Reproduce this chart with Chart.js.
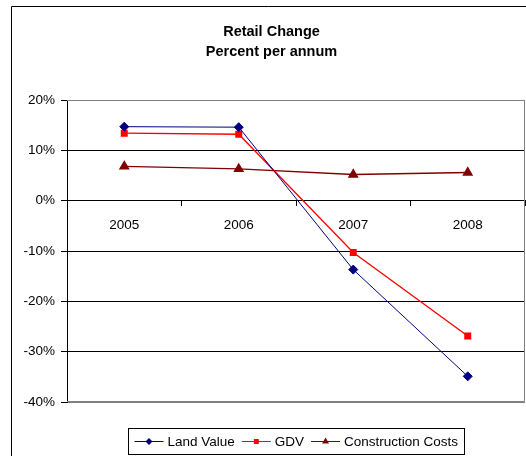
<!DOCTYPE html>
<html>
<head>
<meta charset="utf-8">
<script src="https://cdn.jsdelivr.net/npm/chart.js@4/dist/chart.umd.min.js"></script>
<style>
  body { margin: 0; background: #fff; }
  canvas { display: block; }
</style>
</head>
<body>
<canvas id="chart" width="526" height="456"></canvas>
<script>
'use strict';

// data
const years = ['2005', '2006', '2007', '2008'];
const landValue = [14.7, 14.6, -13.7, -34.9];
const gdv = [13.4, 13.2, -10.3, -26.9];
const constructionCosts = [6.8, 6.3, 5.2, 5.6];
const titleLines = ['Retail Change', 'Percent per annum'];

const FONT = '"Liberation Sans", Arial, sans-serif';
const FONT_SIZE = 13.5;

// outer frame, grey plot border and the boxed legend at the bottom
const excelLook = {
  id: 'excelLook',
  beforeDraw(chart) {
    const ctx = chart.ctx;
    ctx.save();
    ctx.strokeStyle = '#000';
    ctx.lineWidth = 1;
    ctx.beginPath();
    ctx.moveTo(11.5, 456);
    ctx.lineTo(11.5, 6.5);
    ctx.lineTo(526, 6.5);
    ctx.stroke();
    ctx.restore();
  },
  beforeDatasetsDraw(chart) {
    const ctx = chart.ctx;
    const a = chart.chartArea;
    ctx.save();
    ctx.strokeStyle = '#808080';
    ctx.lineWidth = 1;
    ctx.beginPath();
    ctx.moveTo(a.left, a.top + 0.5);
    ctx.lineTo(a.right - 0.5, a.top + 0.5);
    ctx.lineTo(a.right - 0.5, a.bottom - 0.5);
    ctx.lineTo(a.left, a.bottom - 0.5);
    ctx.stroke();
    ctx.restore();
  },
  afterDraw(chart) {
    const ctx = chart.ctx;
    const a = chart.chartArea;
    const sets = chart.data.datasets;
    ctx.save();
    ctx.font = FONT_SIZE + 'px ' + FONT;
    const lineLen = 29, gapText = 4, gapItem = 7, pad = 6;
    let total = pad * 2;
    sets.forEach((ds, i) => {
      total += lineLen + gapText + ctx.measureText(ds.label).width;
      if (i < sets.length - 1) total += gapItem;
    });
    const boxLeft = Math.round((a.left + a.right) / 2 - total / 2) + 0.5;
    const boxTop = 428.5, boxH = 26;
    ctx.strokeStyle = '#000';
    ctx.lineWidth = 1;
    ctx.strokeRect(boxLeft, boxTop, Math.round(total), boxH);
    const cy = boxTop + boxH / 2;
    let x = boxLeft + pad;
    ctx.textBaseline = 'middle';
    ctx.textAlign = 'left';
    sets.forEach((ds) => {
      ctx.strokeStyle = ds.borderColor;
      ctx.lineWidth = 1;
      ctx.beginPath();
      ctx.moveTo(x, cy);
      ctx.lineTo(x + lineLen, cy);
      ctx.stroke();
      ctx.fillStyle = ds.pointBackgroundColor;
      Chart.helpers.drawPoint(ctx, {
        pointStyle: ds.pointStyle,
        radius: ds.pointStyle === 'triangle' ? 4 : 3.5,
        rotation: 0,
        borderWidth: 0
      }, x + lineLen / 2, cy);
      x += lineLen + gapText;
      ctx.fillStyle = '#000';
      ctx.fillText(ds.label, x, cy + 1);
      x += ctx.measureText(ds.label).width + gapItem;
    });
    ctx.restore();
  }
};

const data = {
  labels: years,
  datasets: [
    {
      label: 'Land Value',
      data: landValue,
      borderColor: '#000080',
      backgroundColor: '#000080',
      pointBackgroundColor: '#000080',
      pointBorderColor: '#000080',
      pointStyle: 'rectRot',
      pointRadius: 4.5,
      borderWidth: 1
    },
    {
      label: 'GDV',
      data: gdv,
      borderColor: '#ff0000',
      backgroundColor: '#ff0000',
      pointBackgroundColor: '#ff0000',
      pointBorderColor: '#ff0000',
      pointStyle: 'rect',
      pointRadius: 4,
      borderWidth: 1.3
    },
    {
      label: 'Construction Costs',
      data: constructionCosts,
      borderColor: '#800000',
      backgroundColor: '#800000',
      pointBackgroundColor: '#800000',
      pointBorderColor: '#800000',
      pointStyle: 'triangle',
      pointRadius: 5,
      borderWidth: 1.3
    }
  ]
};

const config = {
  type: 'line',
  data: data,
  plugins: [excelLook],
  options: {
    responsive: false,
    animation: false,
    layout: { autoPadding: false, padding: { left: 18, right: 1, top: 0, bottom: 54 } },
    plugins: {
      legend: { display: false },
      tooltip: { enabled: false },
      title: {
        display: true,
        text: titleLines,
        color: '#000',
        font: { family: FONT, size: 14.5, weight: 'bold', lineHeight: 20 / 14.5 },
        padding: { top: 22, bottom: 38 }
      }
    },
    scales: {
      x: {
        type: 'category',
        position: { y: 0 },
        offset: true,
        afterFit(scale) { scale.paddingLeft = 0; scale.paddingRight = 0; },
        grid: {
          offset: true,
          drawOnChartArea: false,
          drawTicks: true,
          tickLength: 5,
          color: '#000'
        },
        border: { color: '#000', width: 1 },
        ticks: {
          color: '#000',
          padding: 12,
          font: { family: FONT, size: FONT_SIZE }
        }
      },
      y: {
        min: -40,
        max: 20,
        afterFit(scale) { scale.width = 49; },
        grid: {
          color: (c) => (c.tick && (c.tick.value === 20 || c.tick.value === -40)) ? '#808080' : '#000',
          tickLength: 6,
          tickColor: '#000'
        },
        border: { color: '#000', width: 1 },
        ticks: {
          stepSize: 10,
          color: '#000',
          padding: 6,
          font: { family: FONT, size: FONT_SIZE },
          callback: (v) => v + '%'
        }
      }
    }
  }
};

const chartElem = document.getElementById('chart');
const retailChart = new Chart(chartElem, config);
</script>
</body>
</html>
